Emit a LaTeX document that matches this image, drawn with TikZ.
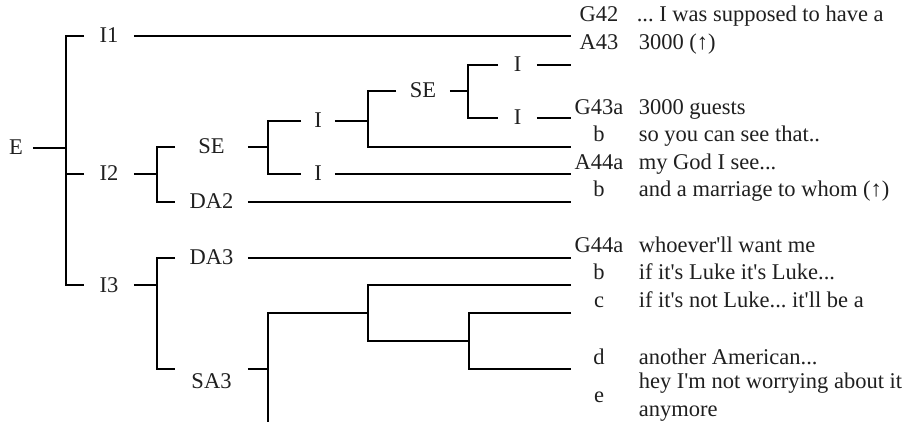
\documentclass[tikz,border=0pt]{standalone}
\usepackage{fontspec}
\setmainfont{Liberation Serif}
\frenchspacing
\begin{document}
\begin{tikzpicture}[x=1pt,y=-1pt,line width=1.6pt,
  txt/.style={font=\fontsize{22.5}{27}\selectfont,inner sep=0pt,text=black!88},
  tl/.style={txt,minimum width=#1,text height=14pt,text depth=0pt,align=center},
  lab/.style={txt,anchor=base},
  utt/.style={txt,anchor=base west}]
\useasboundingbox (0,0) rectangle (921,422);
% tree labels
\node[tl=32] (E) at (16,148) {E};
\node[tl=48] (I1) at (109,36) {I1};
\node[tl=48] (I2) at (109,174) {I2};
\node[tl=48] (I3) at (109,285) {I3};
\node[tl=71] (SE1) at (211.5,147) {SE};
\node[tl=71] (DA2) at (211.5,202) {DA2};
\node[tl=71] (DA3) at (211.5,258) {DA3};
\node[tl=71] (SA3) at (211.5,381) {SA3};
\node[tl=32] (Ia) at (318,121) {I};
\node[tl=32] (Ib) at (318,174) {I};
\node[tl=52] (SE2) at (423,91) {SE};
\node[tl=37] (Ic) at (517.5,65) {I};
\node[tl=37] (Id) at (517.5,118) {I};
% leaf ends
\coordinate (l1) at (571,36);
\coordinate (l2) at (571,65);
\coordinate (l4) at (571,118);
\coordinate (l5) at (571,147);
\coordinate (l6) at (571,174);
\coordinate (l7) at (571,202);
\coordinate (l8) at (571,258);
\coordinate (l9) at (571,285);
\coordinate (l10) at (571,313);
\coordinate (l11) at (571,369);
% junctions
\coordinate (j0) at (66,148);
\coordinate (j1) at (157,174);
\coordinate (j2) at (268,147);
\coordinate (j3) at (368,121);
\coordinate (j4) at (468,91);
\coordinate (j5) at (157,285);
\coordinate (j6) at (268,369);
\coordinate (j7) at (368,313);
\coordinate (j8) at (368,341);
\coordinate (j9) at (469,341);
\coordinate (bot) at (268,422);
% connectors
\draw (E.east) -- (j0);
\draw (I1.west) -| (j0) |- (I3.west);
\draw (I2.west) -- (I2.west -| j0);
\draw (I1.east) -- (l1);
\draw (I2.east) -- (j1);
\draw (SE1.west) -| (j1) |- (DA2.west);
\draw (DA2.east) -- (l7);
\draw (SE1.east) -- (j2);
\draw (Ia.west) -| (j2) |- (Ib.west);
\draw (Ib.east) -- (l6);
\draw (Ia.east) -- (j3);
\draw (SE2.west) -| (j3) |- (l5);
\draw (SE2.east) -- (j4);
\draw (Ic.west) -| (j4) |- (Id.west);
\draw (Ic.east) -- (l2);
\draw (Id.east) -- (l4);
\draw (I3.east) -- (j5);
\draw (DA3.west) -| (j5) |- ([yshift=12pt]SA3.west);
\draw (DA3.east) -- (l8);
\draw ([yshift=12pt]SA3.east) -- (j6);
\draw (j7) -| (bot);
\draw (l9) -| (j8) -- (j9);
\draw (l10) -| (j9) |- (l11);
% line labels
\node[lab] (g42) at (599,22) {G42};
\node[lab] (a43) at (599,50) {A43};
\node[lab] (g43a) at (599,115) {G43a};
\node[lab] (g43b) at (599,142) {b};
\node[lab] (a44a) at (599,170) {A44a};
\node[lab] (a44b) at (599,197) {b};
\node[lab] (g44a) at (599,252) {G44a};
\node[lab] (g44b) at (599,279.5) {b};
\node[lab] (g44c) at (599,307) {c};
\node[lab] (g44d) at (599,364) {d};
\node[lab] (g44e) at (599,402) {e};
% utterances
\node[utt] (t42) at (636,22) {... I was supposed to have a};
\node[utt] (t43) at (638,50) {3000 (↑)};
\node[utt] (t43a) at (638,115) {3000 guests};
\node[utt] (t43b) at (638,142) {so you can see that..};
\node[utt] (t44a) at (638,170) {my God I see...};
\node[utt] (t44b) at (638,197) {and a marriage to whom (↑)};
\node[utt] (u44a) at (638,252) {whoever\textquotesingle ll want me};
\node[utt] (u44b) at (638,279.5) {if it\textquotesingle s Luke it\textquotesingle s Luke...};
\node[utt] (u44c) at (638,307) {if it\textquotesingle s not Luke... it\textquotesingle ll be a};
\node[utt] (u44d) at (638,364) {another American...};
\node[utt] (u44e1) at (638,388) {hey I\textquotesingle m not worrying about it};
\node[utt] (u44e2) at (638,416) {anymore};
\end{tikzpicture}
\end{document}
